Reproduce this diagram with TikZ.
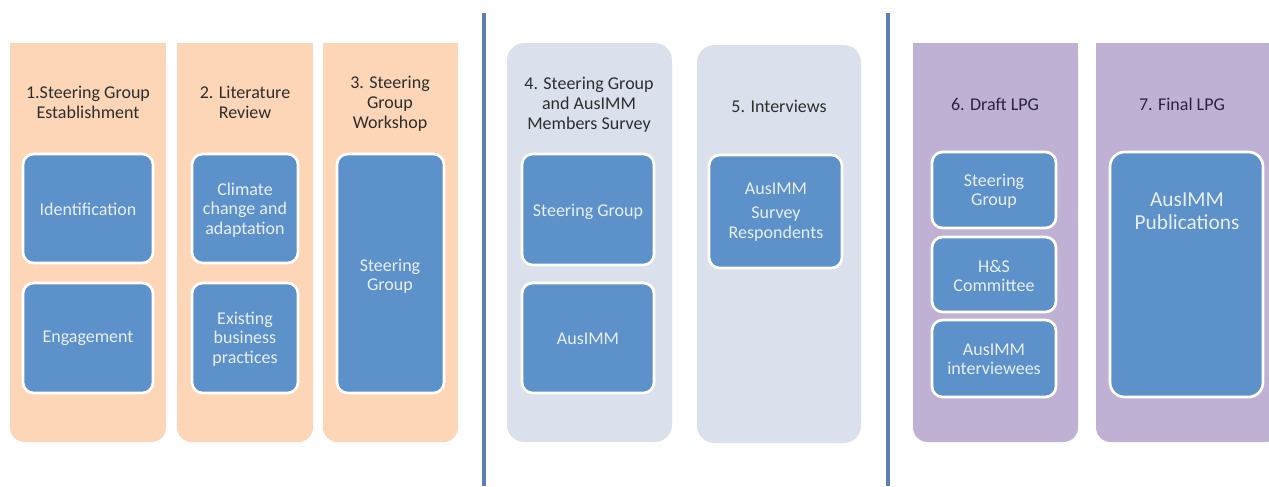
\documentclass[tikz,border=0pt]{standalone}
\usepackage{fontspec}
\setmainfont{Carlito}
\definecolor{peach}{HTML}{FCD6B6}
\definecolor{mist}{HTML}{DAE0EC}
\definecolor{lilac}{HTML}{BFB1D4}
\definecolor{boxblue}{HTML}{5C91C9}
\definecolor{lineblue}{HTML}{5A80B3}
\definecolor{titlegray}{HTML}{2E2E2E}
\definecolor{titleplum}{HTML}{2B2340}
\definecolor{boxwhite}{HTML}{E9EFF8}

\begin{document}
\begin{tikzpicture}[x=0.75pt,y=-0.75pt,
    inbox/.style={fill=boxblue, draw=white, line width=2pt, rounded corners=8pt},
    boxlabel/.style={text=boxwhite, align=center, font=\fontsize{13.5}{14.5}\selectfont},
    title/.style={text=titlegray, align=center, font=\fontsize{13.5}{15}\selectfont},
    divider/.style={draw=lineblue, line width=2.4pt}]
		%%%%% START %%%%%
		
		\fill[white] (0, 0) rectangle (1269, 486);
		\useasboundingbox (0, 0) rectangle (1269, 486);
		
		% planning stage
		\fill[peach, rounded corners=11pt] (10, 43) rectangle (166, 442);
		\fill[peach] (10, 43) rectangle (166, 200);
		\fill[peach, rounded corners=11pt] (177, 43) rectangle (313, 442);
		\fill[peach] (177, 43) rectangle (313, 200);
		\fill[peach, rounded corners=11pt] (323, 43) rectangle (458, 442);
		\fill[peach] (323, 43) rectangle (458, 200);
		
		\node[title] (t1) at (88, 102) {1.Steering Group\\Establishment};
		\node[title] (t2) at (245, 102) {2. Literature\\Review};
		\node[title] (t3) at (390, 104) {3. Steering\\Group\\Workshop};
		
		\draw[inbox] (23, 154) rectangle (153, 263);
		\node[boxlabel] (ident) at (88, 209) {Identification};
		\draw[inbox] (23, 283) rectangle (153, 393);
		\node[boxlabel] (engage) at (88, 338) {Engagement};
		
		\draw[inbox] (192, 154) rectangle (298, 263);
		\node[boxlabel] (climate) at (245, 210) {Climate\\change and\\adaptation};
		\draw[inbox] (192, 283) rectangle (298, 393);
		\node[boxlabel] (existing) at (245, 339) {Existing\\business\\practices};
		
		\draw[inbox] (337, 154) rectangle (444, 393);
		\node[boxlabel] (sgws) at (390, 276) {Steering\\Group};
		
		\draw[divider] (484, 13) -- (484, 486);
		
		% consultation stage
		\fill[mist, rounded corners=13pt] (507, 43) rectangle (672, 442);
		\fill[mist, rounded corners=13pt] (697, 45) rectangle (861, 443);
		
		\node[title] (t4) at (589, 105) {4. Steering Group\\and AusIMM\\Members Survey};
		\node[title] (t5) at (779, 106) {5. Interviews};
		
		\draw[inbox] (522, 154) rectangle (654, 265);
		\node[boxlabel] (sgsurvey) at (588, 212) {Steering Group};
		\draw[inbox] (522, 283) rectangle (654, 393);
		\node[boxlabel] (members) at (588, 339) {AusIMM};
		
		\draw[inbox] (709, 155) rectangle (842, 268);
		\node[boxlabel] (respond) at (776, 212) {AusIMM\\[4pt]Survey\\Respondents};
		
		\draw[divider] (888, 13) -- (888, 486);
		
		% guide stage
		\fill[lilac, rounded corners=11pt] (913, 43) rectangle (1078, 442);
		\fill[lilac] (913, 43) rectangle (1078, 200);
		\fill[lilac, rounded corners=11pt] (1096, 43) rectangle (1280, 442);
		\fill[lilac] (1096, 43) rectangle (1280, 200);
		
		\node[title, text=titleplum] (t6) at (995, 104) {6. Draft LPG};
		\node[title, text=titleplum] (t7) at (1182, 104) {7. Final LPG};
		
		\draw[inbox] (932, 152) rectangle (1056, 228);
		\node[boxlabel] (sgdraft) at (994, 191) {Steering\\Group};
		\draw[inbox] (932, 237) rectangle (1056, 312);
		\node[boxlabel] (hs) at (994, 276) {H\&S\\Committee};
		\draw[inbox] (932, 320) rectangle (1056, 397);
		\node[boxlabel] (interv) at (994, 359) {AusIMM\\interviewees};
		
		\draw[inbox, rounded corners=11pt] (1110, 152) rectangle (1263, 397);
		\node[boxlabel, font=\fontsize{16}{17.25}\selectfont] (pubs) at (1187, 211) {AusIMM\\Publications};
		
		%%%%% END %%%%%
	\end{tikzpicture}
\end{document}
